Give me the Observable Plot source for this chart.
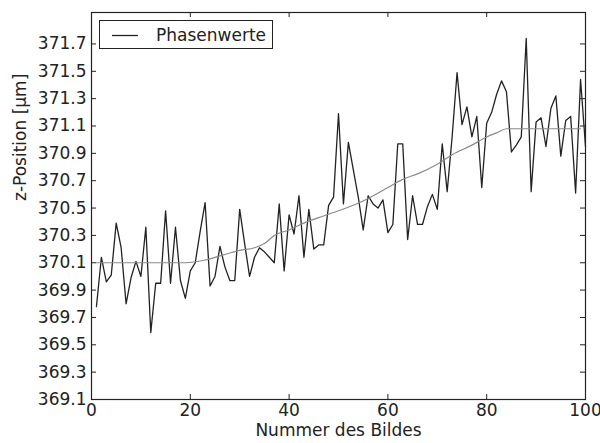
<!DOCTYPE html>
<html>
<head>
<meta charset="utf-8">
<script src="https://cdn.jsdelivr.net/npm/d3@7"></script>
<script src="https://cdn.jsdelivr.net/npm/@observablehq/plot@0.6"></script>
<style>
  html, body { margin: 0; padding: 0; background: #fff; }
  #wrap { position: relative; width: 600px; height: 443px; font-family: "DejaVu Sans", sans-serif; }
  #legend { position: absolute; left: 99px; top: 20px; width: 172px; height: 27px; border: 1px solid #222; background: #fff; box-sizing: content-box; }
  #legend svg { position: absolute; left: 0; top: 0; }
</style>
</head>
<body>
<div id="wrap"></div>
<script>
// Black series: "Phasenwerte" (image number 1..100)
const frames = d3.range(1, 101);
const phase = [
  369.78, 370.14, 369.96, 370.01, 370.39, 370.21, 369.80, 369.99, 370.11, 370.00,
  370.36, 369.59, 369.95, 369.95, 370.48, 369.95, 370.36, 369.97, 369.84, 370.04,
  370.10, 370.33, 370.54, 369.93, 370.00, 370.22, 370.07, 369.97, 369.97, 370.49,
  370.24, 370.00, 370.14, 370.21, 370.18, 370.14, 370.10, 370.53, 370.04, 370.45,
  370.31, 370.59, 370.14, 370.49, 370.20, 370.23, 370.23, 370.52, 370.58, 371.19,
  370.53, 370.98, 370.78, 370.58, 370.34, 370.59, 370.53, 370.50, 370.56, 370.32,
  370.38, 370.97, 370.97, 370.27, 370.59, 370.38, 370.38, 370.51, 370.60, 370.49,
  370.97, 370.62, 371.02, 371.49, 371.11, 371.24, 371.02, 371.17, 370.65, 371.12,
  371.20, 371.33, 371.43, 371.35, 370.91, 370.96, 371.02, 371.74, 370.62, 371.13,
  371.16, 370.95, 371.23, 371.32, 370.88, 371.14, 371.17, 370.61, 371.44, 370.95
];
// Grey smooth curve (read at several positions)
const fitX = [1, 19, 23, 26, 30, 33, 35, 37, 40, 43, 46, 50, 53, 56, 60, 63, 66, 70, 73, 77, 80, 82, 84, 99];
const fitY = [370.10, 370.10, 370.12, 370.15, 370.19, 370.21, 370.24, 370.30, 370.34, 370.39, 370.43, 370.48,
              370.52, 370.57, 370.65, 370.71, 370.75, 370.82, 370.89, 370.96, 371.02, 371.05, 371.08, 371.08];

const xTicks = [0, 20, 40, 60, 80, 100];
const yTicks = [369.1, 369.3, 369.5, 369.7, 369.9, 370.1, 370.3, 370.5, 370.7, 370.9, 371.1, 371.3, 371.5, 371.7];
const xDomain = [0, 100];
const yDomain = [369.1, 371.93];
const xLabel = "Nummer des Bildes";
const yLabel = "z-Position [µm]";
const seriesName = "Phasenwerte";

const phaseData = frames.map((f, i) => ({x: f, y: phase[i]}));
const fitData = fitX.map((f, i) => ({x: f, y: fitY[i]}));

const W = 600, H = 443;
const mL = 91, mR = 15, mT = 12, mB = 44;
const innerW = W - mL - mR, innerH = H - mT - mB;
const tl = 5;

const chart = Plot.plot({
  width: W, height: H,
  marginLeft: mL, marginRight: mR, marginTop: mT, marginBottom: mB,
  style: {fontFamily: "DejaVu Sans, sans-serif", fontSize: "17px", color: "#222", background: "#fff"},
  x: {domain: xDomain, ticks: xTicks, label: null},
  y: {domain: yDomain, ticks: yTicks, label: null},
  marks: [
    Plot.axisX(xTicks, {anchor: "bottom", tickSize: 0, tickPadding: 4, fontSize: 17, fill: "#222", label: null}),
    Plot.axisY(yTicks, {anchor: "left", tickSize: 0, tickPadding: 5, fontSize: 17, fill: "#222", tickFormat: d3.format(".1f"), label: null}),
    Plot.tickY(yTicks, {y: d => d, insetRight: innerW - tl, stroke: "#222"}),
    Plot.tickY(yTicks, {y: d => d, insetLeft: innerW - tl, stroke: "#222"}),
    Plot.tickX(xTicks, {x: d => d, insetTop: innerH - tl, stroke: "#222"}),
    Plot.tickX(xTicks, {x: d => d, insetBottom: innerH - tl, stroke: "#222"}),
    Plot.line(phaseData, {x: "x", y: "y", stroke: "#222", strokeWidth: 1.3}),
    Plot.line(fitData, {x: "x", y: "y", stroke: "#8a8a8a", strokeWidth: 1.2, curve: "monotone-x"}),
    Plot.frame({stroke: "#222", strokeWidth: 1.2}),
    Plot.text([xLabel], {frameAnchor: "bottom", dy: 31, fontSize: 17, fill: "#222", lineAnchor: "middle"}),
    Plot.text([yLabel], {frameAnchor: "left", dx: -71, dy: -5, rotate: -90, fontSize: 17, fill: "#222", lineAnchor: "middle"})
  ]
});

const wrap = document.getElementById("wrap");
wrap.appendChild(chart);

// Legend (inside the plot area, upper left)
const legend = document.createElement("div");
legend.id = "legend";
legend.innerHTML = `<svg width="172" height="27">
  <line x1="12" x2="38" y1="14.5" y2="14.5" stroke="#222" stroke-width="1.3"></line>
  <text x="56" y="14.5" dy="0.35em" font-size="17" fill="#222" font-family="DejaVu Sans, sans-serif">${seriesName}</text>
</svg>`;
wrap.appendChild(legend);
</script>
</body>
</html>
